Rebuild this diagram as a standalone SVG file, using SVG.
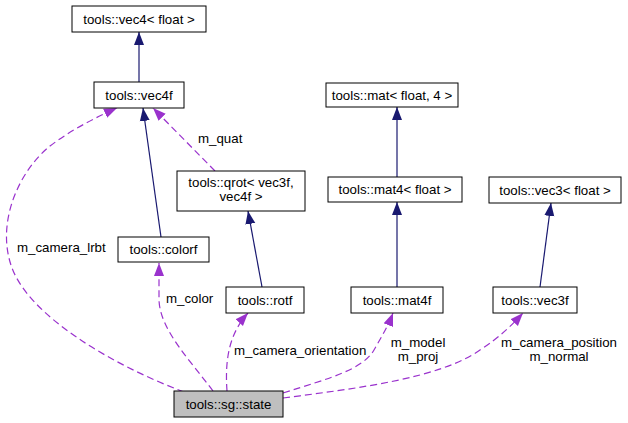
<svg xmlns="http://www.w3.org/2000/svg" width="628" height="423" viewBox="0 0 628 423">
<style>
.n rect{fill:#fff;stroke:#000;stroke-width:1}
.n.hl rect{fill:#bfbfbf}
text{font-family:"Liberation Sans",Arial,sans-serif;font-size:13.3px;fill:#000}
.n text{text-anchor:middle}
.inh{fill:none;stroke:#191970;stroke-width:1.2}
.use{fill:none;stroke:#9a32cd;stroke-width:1.2;stroke-dasharray:7,4}
</style>
<defs>
<marker id="an" markerUnits="userSpaceOnUse" markerWidth="14" markerHeight="12" refX="13" refY="5" orient="auto" viewBox="0 0 14 10"><path d="M0,0 L13,5 L0,10 Z" fill="#191970"/></marker>
<marker id="ap" markerUnits="userSpaceOnUse" markerWidth="14" markerHeight="12" refX="13" refY="5" orient="auto" viewBox="0 0 14 10"><path d="M0,0 L13,5 L0,10 Z" fill="#9a32cd"/></marker>
</defs>
<rect width="628" height="423" fill="#fff"/>
<g id="connectors">
<path class="inh" marker-end="url(#an)" d="M139,82 L139,32"/>
<path class="inh" marker-end="url(#an)" d="M161,237 L143,108"/>
<path class="inh" marker-end="url(#an)" d="M262,287 L248,211"/>
<path class="inh" marker-end="url(#an)" d="M397,177 L397,107"/>
<path class="inh" marker-end="url(#an)" d="M397,287 L397,202"/>
<path class="inh" marker-end="url(#an)" d="M540,287 L551,203"/>
<path class="use" marker-end="url(#ap)" d="M184,392 C110,364 30,316 12,268 C-5,222 20,170 50,146 C70,131 92,119 117,108"/>
<path class="use" marker-end="url(#ap)" d="M215,171 L153,108"/>
<path class="use" marker-end="url(#ap)" d="M213,391 C190,360 160,330 159,300 L159,263"/>
<path class="use" marker-end="url(#ap)" d="M227,391 C225,362 228,335 248,313"/>
<path class="use" marker-end="url(#ap)" d="M283,393 C330,378 362,370 374,350 C382,336 388,326 393,313"/>
<path class="use" marker-end="url(#ap)" d="M283,398 C360,388 440,378 480,350 C500,337 512,325 523,313"/>
<text x="17" y="252">m_camera_lrbt</text>
<text x="198" y="143">m_quat</text>
<text x="166" y="303">m_color</text>
<text x="234" y="355">m_camera_orientation</text>
<text x="418" y="347" text-anchor="middle">m_model</text>
<text x="418" y="361" text-anchor="middle">m_proj</text>
<text x="559" y="347" text-anchor="middle">m_camera_position</text>
<text x="559" y="361" text-anchor="middle">m_normal</text>
</g>
<g id="vec4_float" class="n"><rect x="72" y="6" width="134" height="26"/><text x="139" y="23.5">tools::vec4&lt; float &gt;</text></g>
<g id="vec4f" class="n"><rect x="94" y="82" width="90" height="26"/><text x="139" y="99.5">tools::vec4f</text></g>
<g id="qrot" class="n"><rect x="177" y="171" width="128" height="40"/><text x="241" y="187">tools::qrot&lt; vec3f,</text><text x="241" y="201">vec4f &gt;</text></g>
<g id="colorf" class="n"><rect x="118" y="237" width="91" height="25"/><text x="163.5" y="254">tools::colorf</text></g>
<g id="rotf" class="n"><rect x="226" y="287" width="78" height="26"/><text x="265" y="304.5">tools::rotf</text></g>
<g id="state" class="n hl"><rect x="174" y="391" width="109" height="26"/><text x="228.5" y="408.5">tools::sg::state</text></g>
<g id="mat_float_4" class="n"><rect x="326" y="83" width="132" height="24"/><text x="392" y="99.5">tools::mat&lt; float, 4 &gt;</text></g>
<g id="mat4_float" class="n"><rect x="328" y="177" width="134" height="25"/><text x="395" y="194">tools::mat4&lt; float &gt;</text></g>
<g id="mat4f" class="n"><rect x="351" y="287" width="92" height="26"/><text x="397" y="304.5">tools::mat4f</text></g>
<g id="vec3_float" class="n"><rect x="489" y="177" width="132" height="26"/><text x="555" y="194.5">tools::vec3&lt; float &gt;</text></g>
<g id="vec3f" class="n"><rect x="493" y="287" width="84" height="26"/><text x="535" y="304.5">tools::vec3f</text></g>
</svg>
